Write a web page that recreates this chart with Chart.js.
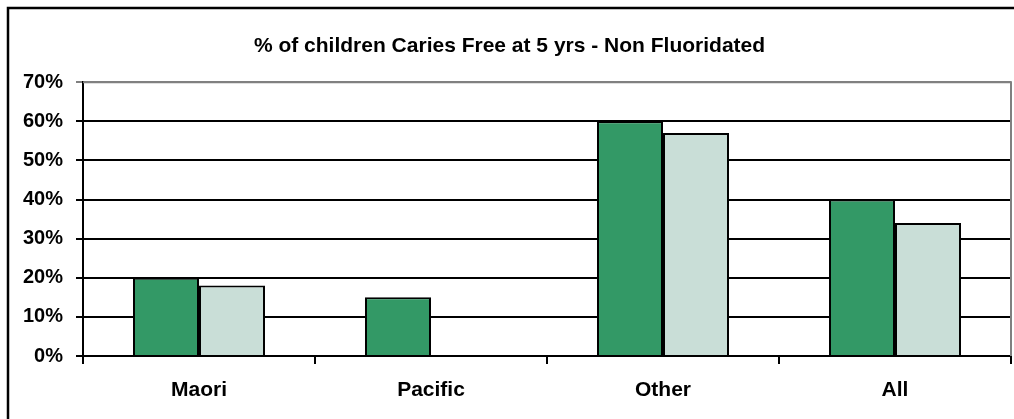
<!DOCTYPE html>
<html>
<head>
<meta charset="utf-8">
<script src="https://cdn.jsdelivr.net/npm/chart.js@4/dist/chart.umd.min.js"></script>
<style>
  html, body { margin: 0; padding: 0; background: #fff; }
  #wrap { width: 1014px; height: 419px; }
</style>
</head>
<body>
<div id="wrap"><canvas id="c" width="1014" height="419"></canvas></div>
<script>
// Caries-free children at 5 years, non-fluoridated areas
const chartTitle = '% of children Caries Free at 5 yrs - Non Fluoridated';
const categories = ['Maori', 'Pacific', 'Other', 'All'];
const seriesA = [20, 15, 60, 40];
const seriesB = [18, null, 57, 34];
const yTicks = [0, 10, 20, 30, 40, 50, 60, 70];

const FONT = "'Liberation Sans', Arial, sans-serif";

// frame around the figure plus the grey plot-area edge on the right
const framePlugin = {
  id: 'frame',
  beforeDraw(chart) {
    const ctx = chart.ctx;
    ctx.save();
    ctx.fillStyle = '#fff';
    ctx.fillRect(0, 0, chart.width, chart.height);
    ctx.strokeStyle = '#000';
    ctx.lineWidth = 2.5;
    ctx.strokeRect(8, 8, chart.width + 20, chart.height + 20);
    ctx.restore();
  },
  afterDatasetsDraw(chart) {
    const a = chart.chartArea;
    const ctx = chart.ctx;
    ctx.save();
    ctx.strokeStyle = '#808080';
    ctx.lineWidth = 2;
    ctx.beginPath();
    ctx.moveTo(a.left, a.top);
    ctx.lineTo(a.right, a.top);
    ctx.lineTo(a.right, a.bottom);
    ctx.stroke();
    ctx.restore();
  }
};

new Chart(document.getElementById('c'), {
  type: 'bar',
  data: {
    labels: categories,
    datasets: [
      { data: seriesA, backgroundColor: '#339966', borderColor: '#000', borderWidth: 2 },
      { data: seriesB, backgroundColor: '#C9DED7', borderColor: '#000', borderWidth: 2 }
    ]
  },
  options: {
    responsive: false,
    animation: false,
    layout: { padding: { left: 8, right: 3, top: 0, bottom: 0 } },
    datasets: { bar: { categoryPercentage: 0.569, barPercentage: 1 } },
    plugins: {
      legend: { display: false },
      tooltip: { enabled: false },
      title: {
        display: true,
        text: chartTitle,
        color: '#000',
        font: { family: FONT, size: 21, weight: 'bold', lineHeight: 1.2 },
        padding: { top: 34, bottom: 23 }
      }
    },
    scales: {
      x: {
        grid: { offset: true, drawOnChartArea: false, drawTicks: true, tickLength: 8, color: '#000', lineWidth: 2 },
        border: { color: '#000', width: 2 },
        ticks: { color: '#000', padding: 14, font: { family: FONT, size: 21, weight: 'bold' } },
        afterFit(scale) { scale.height = 63; }
      },
      y: {
        min: 0,
        max: 70,
        afterBuildTicks(scale) { scale.ticks = yTicks.map(v => ({ value: v })); },
        grid: {
          color: c => (c.tick && c.tick.value === 70 ? '#808080' : '#000'),
          lineWidth: 2,
          tickLength: 7,
          drawTicks: true
        },
        border: { color: '#000', width: 2 },
        ticks: {
          color: '#000',
          padding: 13,
          font: { family: FONT, size: 20, weight: 'bold' },
          callback: v => v + '%'
        },
        afterFit(scale) { scale.width = 75; }
      }
    }
  },
  plugins: [framePlugin]
});
</script>
</body>
</html>
